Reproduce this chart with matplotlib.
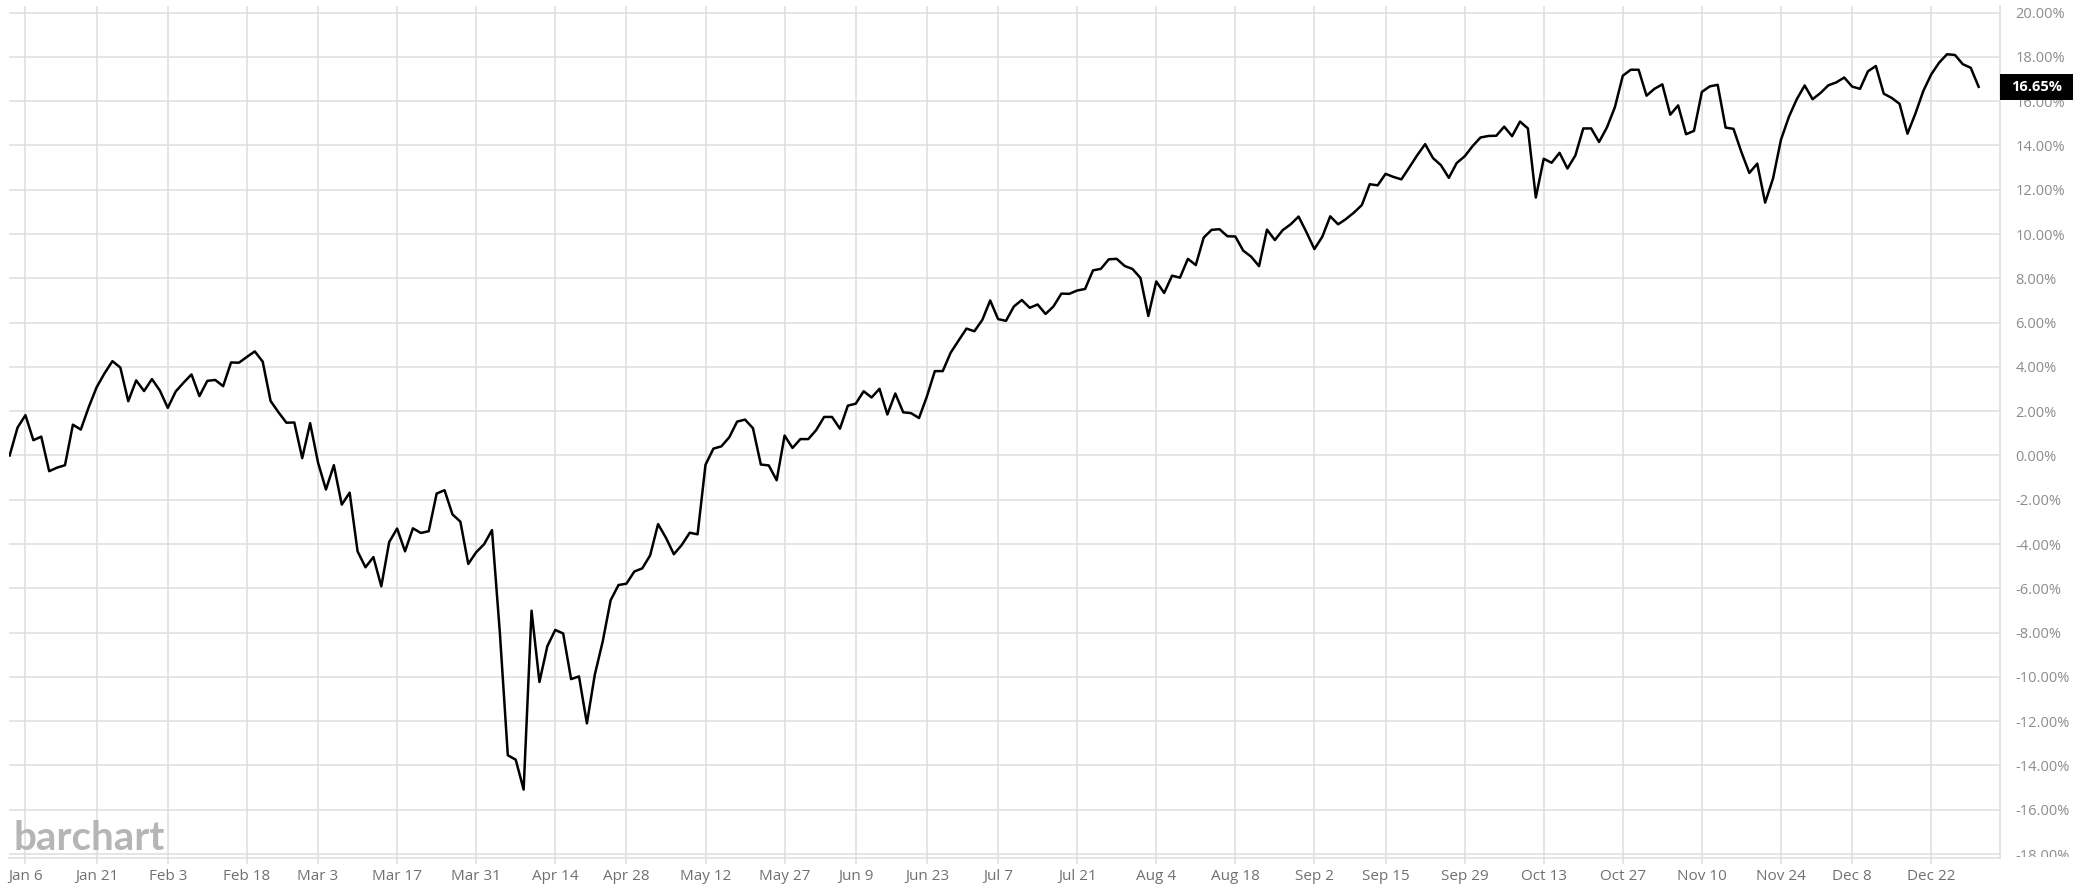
import matplotlib
matplotlib.use("Agg")
import matplotlib.pyplot as plt
import matplotlib.transforms as mtransforms
from matplotlib.patches import Rectangle
import numpy as np
import pandas as pd

plt.rcParams['font.family'] = ['Open Sans', 'DejaVu Sans']

# --- trading days of 2025 (NYSE closures removed) ---
closed_days = ["2025-01-09", "2025-01-20", "2025-02-17", "2025-04-18", "2025-05-26",
               "2025-06-19", "2025-07-04", "2025-09-01", "2025-11-27", "2025-12-25"]
days = pd.bdate_range("2025-01-02", "2025-12-31")
days = days[~days.isin(pd.to_datetime(closed_days))]

# --- % change since Jan 2, one list per month ---
jan = [0.00, 1.26, 1.82, 0.69, 0.85, -0.71, -0.55, -0.44, 1.39, 1.17, 2.18, 3.08, 3.71,
       4.26, 3.97, 2.45, 3.39, 2.91, 3.45, 2.93]
feb = [2.15, 2.89, 3.29, 3.66, 2.68, 3.37, 3.41, 3.13, 4.20, 4.19, 4.45, 4.70, 4.24, 2.46,
       1.95, 1.48, 1.49, -0.12, 1.46]
mar = [-0.32, -1.54, -0.44, -2.22, -1.68, -4.33, -5.05, -4.59, -5.91, -3.91, -3.30, -4.33,
       -3.29, -3.50, -3.42, -1.72, -1.57, -2.66, -2.99, -4.90, -4.37]
apr = [-4.01, -3.37, -8.04, -13.54, -13.74, -15.09, -7.01, -10.23, -8.61, -7.88, -8.04,
       -10.10, -9.98, -12.10, -9.90, -8.40, -6.54, -5.85, -5.79, -5.24, -5.10]
may = [-4.51, -3.10, -3.72, -4.46, -4.04, -3.49, -3.56, -0.42, 0.31, 0.41, 0.82, 1.53,
       1.62, 1.23, -0.41, -0.45, -1.12, 0.90, 0.34, 0.74, 0.74]
jun = [1.15, 1.74, 1.74, 1.21, 2.25, 2.34, 2.90, 2.62, 3.01, 1.85, 2.80, 1.95, 1.91, 1.69,
       2.67, 3.81, 3.81, 4.64, 5.19, 5.73]
jul = [5.61, 6.12, 7.00, 6.16, 6.08, 6.73, 7.02, 6.67, 6.82, 6.39, 6.73, 7.31, 7.30, 7.45,
       7.52, 8.36, 8.43, 8.86, 8.88, 8.56, 8.42, 8.02]
aug = [6.30, 7.86, 7.34, 8.12, 8.03, 8.88, 8.60, 9.84, 10.19, 10.22, 9.90, 9.89, 9.25,
       8.98, 8.55, 10.20, 9.73, 10.18, 10.44, 10.79, 10.08]
sep = [9.32, 9.88, 10.80, 10.44, 10.68, 10.97, 11.31, 12.25, 12.20, 12.72, 12.58, 12.47,
       13.01, 13.56, 14.06, 13.43, 13.11, 12.54, 13.21, 13.51, 13.97]
oct_ = [14.36, 14.43, 14.44, 14.85, 14.42, 15.08, 14.77, 11.65, 13.40, 13.22, 13.67, 12.96,
        13.55, 14.77, 14.77, 14.16, 14.82, 15.73, 17.15, 17.42, 17.42, 16.25, 16.56]
nov = [16.76, 15.39, 15.81, 14.51, 14.66, 16.42, 16.67, 16.74, 14.81, 14.75, 13.70, 12.76,
       13.18, 11.42, 12.51, 14.26, 15.29, 16.09, 16.71]
dec = [16.09, 16.37, 16.72, 16.85, 17.07, 16.66, 16.56, 17.35, 17.59, 16.34, 16.15, 15.88,
       14.53, 15.44, 16.46, 17.21, 17.74, 18.12, 18.09, 17.67, 17.51, 16.65]

pct = np.array(jan + feb + mar + apr + may + jun + jul + aug + sep + oct_ + nov + dec)
last_value = pct[-1]

tick_labels = ["Jan 6", "Jan 21", "Feb 3", "Feb 18", "Mar 3", "Mar 17", "Mar 31", "Apr 14",
               "Apr 28", "May 12", "May 27", "Jun 9", "Jun 23", "Jul 7", "Jul 21", "Aug 4",
               "Aug 18", "Sep 2", "Sep 15", "Sep 29", "Oct 13", "Oct 27", "Nov 10", "Nov 24",
               "Dec 8", "Dec 22"]
y_ticks = np.arange(-18, 21, 2)

day_names = [f"{d:%b} {d.day}" for d in days]
x = np.arange(len(pct))
tick_pos = [day_names.index(t) for t in tick_labels]

W, H = 2092, 891
fig = plt.figure(figsize=(W / 100, H / 100), dpi=100)
ax = fig.add_axes([9 / W, (H - 858) / H, (2000 - 9) / W, (858 - 6) / H])

grid_c = "#dedede"
ax.plot(x, pct, color="black", lw=1.8, zorder=3)

ax.set_xlim(-0.08, 251.7)
ax.set_ylim(-18.18, 20.3)
ax.set_xticks(tick_pos)
ax.set_xticklabels(tick_labels)
ax.set_yticks(y_ticks)
ax.set_yticklabels([f"{v:.2f}%" for v in y_ticks])
ax.yaxis.tick_right()

ax.grid(True, color=grid_c, lw=1.1)
ax.set_axisbelow(True)
for s in ["left", "top"]:
    ax.spines[s].set_visible(False)
for s in ["right", "bottom"]:
    ax.spines[s].set_color(grid_c)
    ax.spines[s].set_linewidth(1.1)

ax.tick_params(axis="x", length=4, width=1.1, color=grid_c, pad=4,
               labelsize=11, labelcolor="#707070")
ax.tick_params(axis="y", length=0, pad=11, labelsize=10.5, labelcolor="#8c8c8c")

# last value marker on the right axis
blend = mtransforms.blended_transform_factory(ax.transAxes, ax.transData)
box_w = 73 / (2000 - 9)
box_h = 26 / 22.14
ax.add_patch(Rectangle((1.0, last_value - box_h / 2), box_w, box_h, transform=blend,
                       facecolor="black", edgecolor="none", clip_on=False, zorder=5))
ax.text(1.0 + box_w / 2, last_value, f"{last_value:.2f}%", transform=blend,
        ha="center", va="center", color="white", fontsize=10.5, fontweight="bold",
        clip_on=False, zorder=6)

# bottom tick label on the right is cut off
fig.add_artist(Rectangle((2001 / W, 0), (W - 2001) / W, (H - 857) / H,
                         transform=fig.transFigure, facecolor="white",
                         edgecolor="none", zorder=10))

# watermark
fig.text(13 / W, (H - 850) / H, "barchart", fontsize=29, fontweight="bold",
         family=["Lato", "DejaVu Sans"], color="#b5b5b5", ha="left", va="baseline")

fig.savefig("out.png", dpi=100)
